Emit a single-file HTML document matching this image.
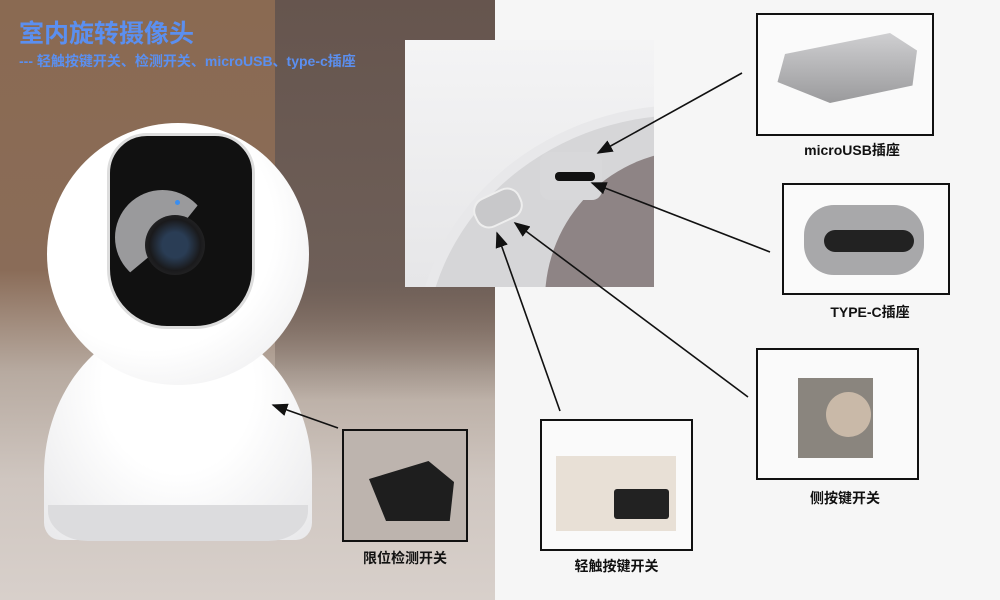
<!DOCTYPE html>
<html><head><meta charset="utf-8"><style>
body{margin:0;width:1000px;height:600px;overflow:hidden;background:#f6f6f6;font-family:"Liberation Sans","Noto Sans CJK SC",sans-serif;position:relative}
.a{position:absolute}
.box{position:absolute;border:2px solid #111;box-sizing:border-box;background:#fafafa}
.lbl{position:absolute;font-weight:bold;font-size:14px;color:#111;text-align:center;white-space:nowrap}
</style></head><body>
<div class="a" style="left:0;top:0;width:495px;height:600px;background:linear-gradient(180deg,#8a6a52 0%,#8a6c58 45%,#b7aaa0 62%,#cfc6c0 80%,#d8d0cb 100%)"></div>
<div class="a" style="left:275px;top:0;width:220px;height:400px;background:linear-gradient(180deg,#66554e,#6e5f58 70%,rgba(180,170,165,0))"></div>
<!-- camera base -->
<div class="a" style="left:44px;top:320px;width:268px;height:220px;background:radial-gradient(ellipse at 50% 30%,#fff 40%,#e8e8ea 100%);border-radius:50% 50% 6% 6%/70% 70% 8% 8%"></div>
<div class="a" style="left:48px;top:505px;width:260px;height:36px;background:#dcdcde;border-radius:0 0 40px 40px/0 0 30px 30px"></div>
<!-- sphere -->
<div class="a" style="left:47px;top:123px;width:262px;height:262px;border-radius:50%;background:radial-gradient(circle at 40% 40%,#fff 55%,#e6e6e8 100%)"></div>
<div class="a" style="left:107px;top:133px;width:142px;height:190px;border-radius:40px 40px 60px 60px;background:#111;border:3px solid #ddd"></div>
<div class="a" style="left:115px;top:190px;width:95px;height:95px;border-radius:50%;background:#9a9a9c;clip-path:polygon(0 0,100% 0,60% 50%,0 100%)"></div>
<div class="a" style="left:145px;top:215px;width:60px;height:60px;border-radius:50%;background:radial-gradient(circle,#2a3d55 30%,#1a1a1c 60%,#333 100%)"></div>
<div class="a" style="left:175px;top:200px;width:5px;height:5px;border-radius:50%;background:#3a8ef0"></div>
<div class="a" style="left:19px;top:14px;font-size:25px;font-weight:bold;color:#5b8ff0">室内旋转摄像头</div>
<div class="a" style="left:19px;top:51px;font-size:14px;font-weight:bold;color:#5b8ff0">--- 轻触按键开关、检测开关、microUSB、type-c插座</div>
<!-- inset -->
<div class="a" style="left:405px;top:40px;width:249px;height:247px;overflow:hidden;background:linear-gradient(180deg,#f4f4f5,#e6e6e8)">
 <div class="a" style="left:10px;top:65px;width:520px;height:480px;border-radius:50%;background:#d6d6d8;border:10px solid #e8e8ea"></div>
 <div class="a" style="left:140px;top:110px;width:300px;height:300px;border-radius:50%;background:#8e8485"></div>
 <div class="a" style="left:135px;top:112px;width:62px;height:48px;background:#d8d8da;border-radius:10px"></div>
 <div class="a" style="left:150px;top:132px;width:40px;height:9px;background:#111;border-radius:4px"></div>
 <div class="a" style="left:68px;top:152px;width:46px;height:28px;background:#c8c8ca;border-radius:14px;border:2px solid #eee;transform:rotate(-25deg)"></div>
</div>
<!-- boxes -->
<div class="box" style="left:756px;top:13px;width:178px;height:123px"><div class="a" style="left:12px;top:18px;width:150px;height:70px;background:linear-gradient(180deg,#cfcfd1,#9a9a9c);clip-path:polygon(10% 30%,80% 0,98% 25%,95% 75%,40% 100%,5% 70%)"></div></div>
<div class="lbl" style="left:780px;top:140px;width:144px">microUSB插座</div>
<div class="box" style="left:782px;top:183px;width:168px;height:112px"><div class="a" style="left:20px;top:20px;width:120px;height:70px;background:#a8a8aa;border-radius:30px"></div><div class="a" style="left:40px;top:45px;width:90px;height:22px;background:#222;border-radius:12px"></div></div>
<div class="lbl" style="left:800px;top:302px;width:140px">TYPE-C插座</div>
<div class="box" style="left:756px;top:348px;width:163px;height:132px"><div class="a" style="left:40px;top:28px;width:75px;height:80px;background:#8a857e"></div><div class="a" style="left:68px;top:42px;width:45px;height:45px;border-radius:50%;background:#c9b9a8"></div></div>
<div class="lbl" style="left:770px;top:488px;width:150px">侧按键开关</div>
<div class="box" style="left:540px;top:419px;width:153px;height:132px"><div class="a" style="left:14px;top:35px;width:120px;height:75px;background:#e8e0d6"></div><div class="a" style="left:72px;top:68px;width:55px;height:30px;background:#222;border-radius:3px"></div></div>
<div class="lbl" style="left:540px;top:556px;width:153px">轻触按键开关</div>
<div class="box" style="left:342px;top:429px;width:126px;height:113px;background:#bdb4ae"><div class="a" style="left:25px;top:30px;width:85px;height:60px;background:#1e1e1e;clip-path:polygon(0 30%,70% 0,100% 35%,95% 100%,20% 100%)"></div></div>
<div class="lbl" style="left:342px;top:548px;width:126px">限位检测开关</div>
<svg class="a" style="left:0;top:0" width="1000" height="600"><defs><marker id="m" markerWidth="10" markerHeight="8" refX="9" refY="4" orient="auto"><path d="M0,0L10,4L0,8z" fill="#111"/></marker></defs>
<g stroke="#111" stroke-width="1.6" marker-end="url(#m)">
<line x1="742" y1="73" x2="598" y2="153"/>
<line x1="770" y1="252" x2="592" y2="183"/>
<line x1="748" y1="397" x2="515" y2="223"/>
<line x1="560" y1="411" x2="497" y2="233"/>
<line x1="338" y1="428" x2="273" y2="405"/>
</g></svg>
</body></html>
